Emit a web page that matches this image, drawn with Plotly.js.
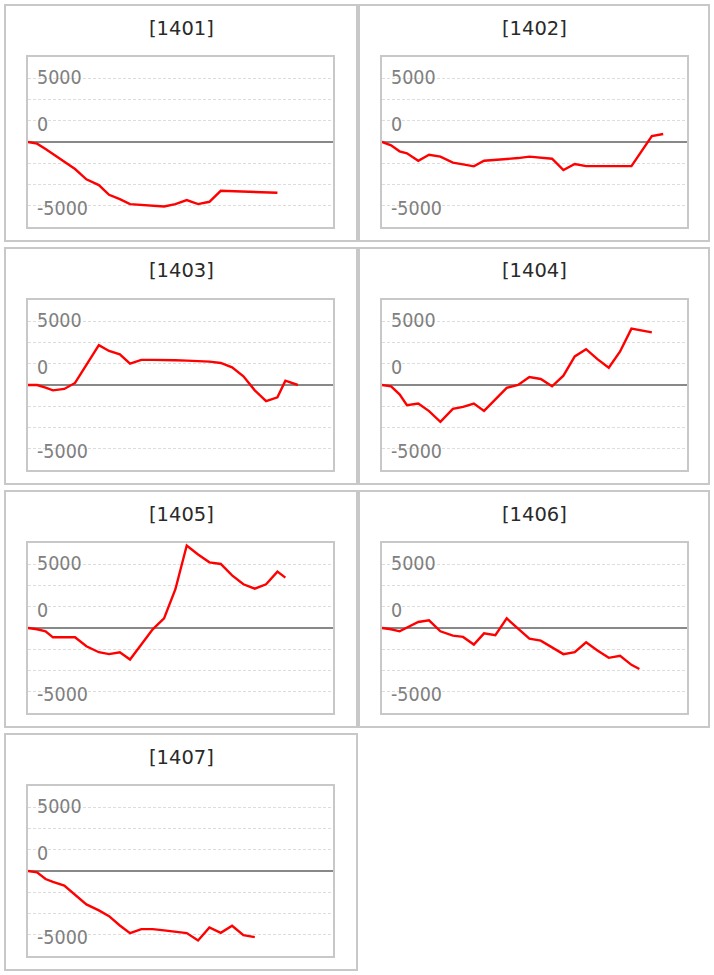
<!DOCTYPE html>
<html>
<head>
<meta charset="utf-8">
<script src="https://cdn.plot.ly/plotly-3.0.1.min.js"></script>
<style>
html,body{margin:0;padding:0;background:#ffffff;}
#chart{width:714px;height:975px;}
</style>
</head>
<body>
<div id="chart"></div>
<script>
// ---------- data ----------
const panelTitles = ['[1401]', '[1402]', '[1403]', '[1404]', '[1405]', '[1406]', '[1407]'];

// shared x positions (time steps)
const X = [0, 0.8, 1.55, 2.2, 3.2, 4.15, 5.15, 6.25, 7.15, 8.1, 9.0, 10.0, 11.0, 12.0,
           13.0, 14.0, 15.0, 16.0, 17.0, 18.0, 19.0, 20.0, 21.0, 22.0, 22.7, 23.8, 24.8];

const s1401 = [0, -130, -550, -940, -1520, -2120, -2930, -3380, -4140, -4480, -4870, -4930, -4980, -5060,
               -4870, -4560, -4870, -4690, -3830, null, null, null, null, -3980, null, null, null];
const s1402 = [0, -260, -730, -890, -1470, -1000, -1150, -1620, -1760, -1910, -1470, -1410, -1340, -1260,
               -1150, -1230, -1310, -2200, -1730, -1890, null, null, null, -1890, null, 470, 630];
const s1403 = [0, 0, -210, -420, -310, 160, 1570, 3120, 2670, 2410, 1680, 1970, 1970, 1970,
               1940, 1910, 1890, 1830, 1730, 1390, 680, -420, -1260, -970, 340, 0, null];
const s1404 = [0, -100, -730, -1590, -1460, -2050, -2890, -1870, -1720, -1460, -2030, null, -230, 0,
               620, 470, -100, 730, 2240, 2810, 2030, 1350, 2630, 4420, null, 4130, null];
const s1405 = [0, -100, -260, -730, -730, -730, -1430, -1900, -2050, -1900, -2470, null, -100, 750,
               3040, 6470, 5770, 5150, 5020, 4130, 3430, 3090, 3430, 4420, 3950, null, null];
const s1406 = [0, -100, -260, 50, 470, 600, -260, -600, -700, -1300, -420, -570, 750, -50,
               -830, -990, -1510, -2050, -1900, -1120, -1770, -2340, -2180, -2890, -3220, null, null];
const s1407 = [0, -100, -630, -860, -1150, -1830, -2620, -3090, -3540, -4270, -4870, -4560, -4560, -4660,
               -4770, -4870, -5450, -4430, -4850, -4300, -5030, -5190, null, null, null, null, null];

const seriesList = [s1401, s1402, s1403, s1404, s1405, s1406, s1407];

const tickValues = [5000, 0, -5000];
const tickLabels = ['5000', '0', '-5000'];

// ---------- layout geometry (pixels) ----------
const W = 714, H = 975;
const panelX = [[5, 357], [359, 709]];
const plotX = [[28, 333], [382, 687]];
const rowPitch = 243;
const panelTop0 = 5, panelBottom0 = 241;
const plotTop0 = 57, plotBottom0 = 227;
const titleY0 = 28;
const labelShift = [0.5, 18, -3];

const yHalf = 20000 / 3;      // symmetric value range
const gridStep = 5000 / 3;
const xMax = 26.9;

const px = v => v / W;
const py = v => 1 - v / H;

const traces = [];
const layout = {
  width: W, height: H,
  margin: {l: 0, r: 0, t: 0, b: 0},
  paper_bgcolor: '#ffffff',
  plot_bgcolor: '#ffffff',
  showlegend: false,
  shapes: [],
  annotations: []
};

seriesList.forEach((ys, i) => {
  const n = i + 1;
  const col = i % 2, row = Math.floor(i / 2);
  const xa = 'xaxis' + (n === 1 ? '' : n);
  const ya = 'yaxis' + (n === 1 ? '' : n);
  const xr = 'x' + (n === 1 ? '' : n);
  const yr = 'y' + (n === 1 ? '' : n);

  traces.push({
    type: 'scatter', mode: 'lines',
    x: X, y: ys,
    xaxis: xr, yaxis: yr,
    connectgaps: true,
    line: {color: '#ff0000', width: 2.4},
    hoverinfo: 'skip'
  });

  const top = plotTop0 + rowPitch * row;
  const bottom = plotBottom0 + rowPitch * row;

  layout[xa] = {
    domain: [px(plotX[col][0]), px(plotX[col][1])],
    anchor: yr,
    range: [0, xMax],
    showgrid: false, zeroline: false, showticklabels: false, ticks: '',
    showline: true, mirror: true, linecolor: '#c8c8c8', linewidth: 2,
    fixedrange: true
  };
  layout[ya] = {
    domain: [py(bottom), py(top)],
    anchor: xr,
    range: [-yHalf, yHalf],
    tick0: 0, dtick: gridStep,
    showticklabels: false, ticks: '',
    showgrid: true, gridcolor: '#dddddd', gridwidth: 1, griddash: '3px,2px',
    zeroline: true, zerolinecolor: '#888888', zerolinewidth: 2,
    showline: true, mirror: true, linecolor: '#c8c8c8', linewidth: 2,
    fixedrange: true
  };

  // outer panel frame
  layout.shapes.push({
    type: 'rect', xref: 'paper', yref: 'paper', layer: 'below',
    x0: px(panelX[col][0]), x1: px(panelX[col][1]),
    y0: py(panelBottom0 + rowPitch * row), y1: py(panelTop0 + rowPitch * row),
    line: {color: '#c8c8c8', width: 2}, fillcolor: 'rgba(0,0,0,0)'
  });

  // panel title
  layout.annotations.push({
    xref: 'paper', yref: 'paper',
    x: px((panelX[col][0] + panelX[col][1]) / 2),
    y: py(titleY0 + rowPitch * row),
    xanchor: 'center', yanchor: 'middle',
    text: panelTitles[i], showarrow: false,
    font: {family: 'DejaVu Sans, Verdana, sans-serif', size: 19.5, color: '#2a2a2a'}
  });

  // y tick labels (drawn inside the plot)
  tickValues.forEach((v, j) => {
    layout.annotations.push({
      xref: xr + ' domain', yref: yr,
      x: 0, y: v, xanchor: 'left', yanchor: 'middle',
      xshift: 7, yshift: labelShift[j],
      text: tickLabels[j], showarrow: false,
      font: {family: 'DejaVu Sans Condensed, DejaVu Sans, sans-serif', size: 19.5, color: '#808080'}
    });
  });
});

Plotly.newPlot('chart', traces, layout, {staticPlot: true, displayModeBar: false});
</script>
</body>
</html>
